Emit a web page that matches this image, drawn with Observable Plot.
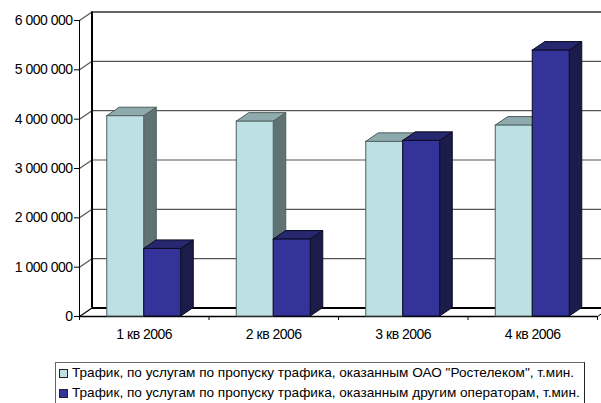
<!DOCTYPE html>
<html>
<head>
<meta charset="utf-8">
<script src="https://cdn.jsdelivr.net/npm/d3@7"></script>
<script src="https://cdn.jsdelivr.net/npm/@observablehq/plot@0.6"></script>
<style>
  html, body { margin: 0; padding: 0; background: #fff; overflow: hidden; width: 601px; height: 403px; }
  #wrap { position: relative; width: 601px; height: 403px; font-family: "Liberation Sans", Arial, sans-serif; }
  #chart svg { overflow: hidden; display: block; }
  #chart svg text { letter-spacing: -0.5px; }
  #legend { position: absolute; left: 55px; top: 362px; width: 530px; height: 50px;
            border: 1px solid #666; border-right: 1.5px solid #222; box-sizing: border-box;
            font-size: 13.6px; color: #000; padding: 0 0 0 2px; }
  .row { height: 20px; line-height: 20px; white-space: nowrap; display: flex; align-items: center; }
  .sw { width: 7px; height: 7px; border: 1px solid #222; margin: 0 4px 0 1px; flex: none; }
</style>
</head>
<body>
<div id="wrap">
  <div id="chart"></div>
  <div id="legend"></div>
</div>
<script>
const categories = ["1 кв 2006", "2 кв 2006", "3 кв 2006", "4 кв 2006"];
const seriesNames = [
  "Трафик, по услугам по пропуску трафика, оказанным ОАО \"Ростелеком\", т.мин.",
  "Трафик, по услугам по пропуску трафика, оказанным другим операторам, т.мин."
];
const rostelecom = [4060000, 3950000, 3540000, 3870000];
const others = [1370000, 1560000, 3560000, 5390000];
const yTicks = [0, 1000000, 2000000, 3000000, 4000000, 5000000, 6000000];

// layout constants
const W = 601, H = 345, ML = 79, MR = 4, MT = 20, MB = 29;
const pxPerX = (W - ML - MR) / categories.length;
const pxPerY = (H - MT - MB) / 6000000;
const DX = 12.5 / pxPerX;      // depth offset in x data units
const DY = 8.5 / pxPerY;       // depth offset in y data units
const BW = 37 / pxPerX;        // bar width in x units

const styles = [
  {front: "#bce0e3", top: "#8eaaac", side: "#5f7373", stroke: "#4f5c5c"},
  {front: "#333399", top: "#27276f", side: "#1c1c4b", stroke: "#0a0a1e"}
];
const seriesValues = [rostelecom, others];

function barsFor(s) {
  return categories.map((c, i) => {
    const x0 = i + 0.5 + (s === 0 ? -BW : 0);
    return {id: s + "-" + i, x0, x1: x0 + BW, v: seriesValues[s][i]};
  });
}
function sidePts(bars) {
  return bars.flatMap(b => [
    {id: b.id, x: b.x1, y1: 0, y2: b.v},
    {id: b.id, x: b.x1 + DX, y1: DY, y2: b.v + DY}
  ]);
}
function topPts(bars) {
  return bars.flatMap(b => [
    {id: b.id, y: b.v, x1: b.x0, x2: b.x1},
    {id: b.id, y: b.v + DY, x1: b.x0 + DX, x2: b.x1 + DX}
  ]);
}
function barMarks(s) {
  const bars = barsFor(s);
  const st = styles[s];
  return [
    Plot.areaY(sidePts(bars), {x: "x", y1: "y1", y2: "y2", z: "id", fill: st.side, stroke: st.stroke, strokeWidth: 1}),
    Plot.areaX(topPts(bars), {y: "y", x1: "x1", x2: "x2", z: "id", fill: st.top, stroke: st.stroke, strokeWidth: 1}),
    Plot.rect(bars, {x1: "x0", x2: "x1", y1: 0, y2: "v", fill: st.front, stroke: st.stroke, strokeWidth: 1})
  ];
}

const loc = d3.formatLocale({decimal: ",", thousands: "\u00a0", grouping: [3], currency: ["", ""]});
const fmt = loc.format(",d");
const n = categories.length;

const chart = Plot.plot({
  width: W, height: H,
  marginLeft: ML, marginRight: MR, marginTop: MT, marginBottom: MB,
  style: {fontFamily: "Liberation Sans, Arial, sans-serif", fontSize: "14px", background: "#fff", color: "#000", overflow: "hidden"},
  x: {type: "linear", domain: [0, n]},
  y: {domain: [0, 6000000]},
  marks: [
    // back wall grid lines
    Plot.ruleY(yTicks.slice(1, -1), {y: d => d + DY, x1: DX, x2: n + DX + 0.2, stroke: "#555", strokeWidth: 1.2}),
    Plot.ruleY([6000000], {y: d => d + DY, x1: DX, x2: n + DX + 0.2, stroke: "#333", strokeWidth: 1.5}),
    // floor back edge
    Plot.ruleY([0], {y: d => d + DY, x1: DX, x2: n + DX + 0.2, stroke: "#000", strokeWidth: 2}),
    // side wall diagonals
    Plot.link(yTicks, {x1: 0, y1: d => d, x2: DX, y2: d => d + DY, stroke: d => d === 0 ? "#000" : "#555", strokeWidth: 1.2}),
    // back wall left edge
    Plot.ruleX([DX], {y1: DY, y2: 6000000 + DY, stroke: "#000", strokeWidth: 2}),
    // floor right diagonal
    Plot.link([n], {x1: d => d, y1: 0, x2: d => d + DX, y2: DY, stroke: "#000", strokeWidth: 1}),
    // front axis line and floor front edge
    Plot.ruleX([0], {y1: 0, y2: 6000000, stroke: "#000", strokeWidth: 1}),
    Plot.ruleY([0], {x1: 0, x2: n, stroke: "#000", strokeWidth: 1.5}),
    Plot.axisY(yTicks, {tickFormat: fmt, tickSize: 5, tickPadding: 2, fontSize: 14, stroke: "#000"}),
    Plot.axisX(d3.range(n + 1), {tickFormat: () => "", tickSize: 4, stroke: "#000"}),
    Plot.text(categories, {x: (d, i) => i + 0.5, y: 0, dy: 18, fontSize: 14, fill: "#000"}),
    ...barMarks(0),
    ...barMarks(1)
  ]
});
document.getElementById("chart").appendChild(chart);

const legend = document.getElementById("legend");
seriesNames.forEach((name, s) => {
  const row = document.createElement("div");
  row.className = "row";
  const sw = document.createElement("span");
  sw.className = "sw";
  sw.style.background = styles[s].front;
  const tx = document.createElement("span");
  tx.textContent = name;
  row.appendChild(sw);
  row.appendChild(tx);
  legend.appendChild(row);
});
</script>
</body>
</html>
